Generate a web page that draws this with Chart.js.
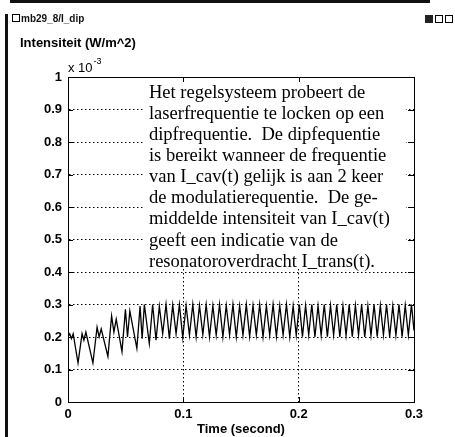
<!DOCTYPE html>
<html>
<head>
<meta charset="utf-8">
<script src="https://cdn.jsdelivr.net/npm/chart.js@4.4.0/dist/chart.umd.min.js"></script>
<style>
html,body{margin:0;padding:0;background:#fff;}
#wrap{position:relative;width:455px;height:437px;}
canvas{display:block;}
</style>
</head>
<body>
<div id="wrap"><canvas id="c" width="455" height="437"></canvas></div>
<script>
// ---- data (intensity in units of 10^-3 W/m^2, time in seconds) ----
const timeS = [
 0, 0.0015, 0.003, 0.0045, 0.0087, 0.0122, 0.0138, 0.0155, 0.0216, 0.0252, 0.027, 0.0288,
 0.0346, 0.0378, 0.0398, 0.0418, 0.0468, 0.0498, 0.0516, 0.0536, 0.0597, 0.0625, 0.0643, 0.0662,
 0.0705, 0.0734, 0.0763, 0.0792, 0.0821, 0.085, 0.0879, 0.0908, 0.0937, 0.0966, 0.0995, 0.1024,
 0.1053, 0.1082, 0.1111, 0.114, 0.1169, 0.1198, 0.1227, 0.1256, 0.1285, 0.1314, 0.1343, 0.1372,
 0.1401, 0.143, 0.1459, 0.1488, 0.1517, 0.1546, 0.1575, 0.1604, 0.1633, 0.1662, 0.1691, 0.172,
 0.1749, 0.1778, 0.1807, 0.1836, 0.1865, 0.1894, 0.1923, 0.1952, 0.1979, 0.2006, 0.2033, 0.206,
 0.2087, 0.2114, 0.2141, 0.2168, 0.2195, 0.2222, 0.2249, 0.2276, 0.2303, 0.233, 0.2357, 0.2384,
 0.2411, 0.2438, 0.2465, 0.2492, 0.2519, 0.2546, 0.2573, 0.26, 0.2627, 0.2654, 0.2681, 0.2708,
 0.2735, 0.2762, 0.2789, 0.2816, 0.2843, 0.287, 0.2897, 0.2924, 0.2951, 0.2978, 0.3
];
const intensity = [
 0.2, 0.21, 0.195, 0.21, 0.12, 0.21, 0.19, 0.215, 0.12, 0.23, 0.2, 0.225,
 0.14, 0.265, 0.215, 0.255, 0.155, 0.285, 0.2, 0.28, 0.165, 0.295, 0.195, 0.3,
 0.18, 0.3, 0.19, 0.295, 0.21, 0.3, 0.195, 0.298, 0.21, 0.3, 0.198, 0.296,
 0.205, 0.3, 0.2, 0.297, 0.207, 0.3, 0.2, 0.296, 0.205, 0.3, 0.2, 0.297,
 0.206, 0.3, 0.2, 0.296, 0.205, 0.3, 0.201, 0.297, 0.206, 0.3, 0.2, 0.296,
 0.205, 0.3, 0.201, 0.297, 0.206, 0.3, 0.2, 0.296, 0.205, 0.3, 0.201, 0.297,
 0.206, 0.3, 0.2, 0.296, 0.205, 0.3, 0.201, 0.297, 0.206, 0.3, 0.2, 0.296,
 0.205, 0.3, 0.201, 0.297, 0.206, 0.3, 0.2, 0.296, 0.205, 0.3, 0.201, 0.297,
 0.206, 0.3, 0.2, 0.296, 0.205, 0.3, 0.201, 0.297, 0.206, 0.3, 0.22
];
const xTickLabels = ['0', '0.1', '0.2', '0.3'];
const yTickLabels = ['0', '0.1', '0.2', '0.3', '0.4', '0.5', '0.6', '0.7', '0.8', '0.9', '1'];
const windowTitle = 'mb29_8/I_dip';
const yAxisTitle = 'Intensiteit (W/m^2)';
const xAxisTitle = 'Time (second)';
const exponentBase = 'x 10';
const exponentPower = '-3';
const noteLines = [
 'Het regelsysteem probeert de',
 'laserfrequentie te locken op een',
 'dipfrequentie.  De dipfequentie',
 'is bereikt wanneer de frequentie',
 'van I_cav(t) gelijk is aan 2 keer',
 'de modulatierequentie.  De ge-',
 'middelde intensiteit van I_cav(t)',
 'geeft een indicatie van de',
 'resonatoroverdracht I_trans(t).'
];

const points = timeS.map((t, i) => ({x: t, y: intensity[i]}));
const boldFont = {family: 'Liberation Sans, Arial, sans-serif', size: 13, weight: 'bold'};

const decor = {
  id: 'decor',
  afterDraw(chart) {
    const ctx = chart.ctx;
    const a = chart.chartArea;
    const xs = chart.scales.x, ys = chart.scales.y;
    ctx.save();
    // text box (covers grid)
    const bx = xs.getPixelForValue(0.065), by = a.top + 1;
    const bw = xs.getPixelForValue(0.293) - bx, bh = ys.getPixelForValue(0.41) - by;
    ctx.fillStyle = '#fff';
    ctx.fillRect(bx, by, bw, bh);
    ctx.fillStyle = '#000';
    ctx.font = '18.5px "Liberation Serif", "Times New Roman", serif';
    ctx.textBaseline = 'middle';
    ctx.textAlign = 'left';
    noteLines.forEach((s, i) => ctx.fillText(s, bx + 6, by + 15 + i * 21.1));
    // top & right borders
    ctx.strokeStyle = '#000';
    ctx.lineWidth = 1;
    ctx.beginPath();
    ctx.moveTo(a.left, a.top + 0.5); ctx.lineTo(a.right + 0.5, a.top + 0.5);
    ctx.moveTo(a.right + 0.5, a.top); ctx.lineTo(a.right + 0.5, a.bottom);
    ctx.stroke();
    // inward ticks
    ctx.beginPath();
    ys.ticks.forEach(t => {
      const y = Math.round(ys.getPixelForValue(t.value)) + 0.5;
      ctx.moveTo(a.left, y); ctx.lineTo(a.left + 5, y);
      ctx.moveTo(a.right, y); ctx.lineTo(a.right - 6, y);
    });
    xs.ticks.forEach(t => {
      const x = Math.round(xs.getPixelForValue(t.value)) + 0.5;
      ctx.moveTo(x, a.bottom); ctx.lineTo(x, a.bottom - 5);
      ctx.moveTo(x, a.top); ctx.lineTo(x, a.top + 5);
    });
    ctx.stroke();
    // exponent label
    ctx.font = '13px "Liberation Sans", Arial, sans-serif';
    ctx.textBaseline = 'alphabetic';
    ctx.fillText(exponentBase, a.left, a.top - 5);
    const w = ctx.measureText(exponentBase).width;
    ctx.font = '9px "Liberation Sans", Arial, sans-serif';
    ctx.fillText(exponentPower, a.left + w + 1, a.top - 13);
    // y axis title
    ctx.font = 'bold 13px "Liberation Sans", Arial, sans-serif';
    ctx.fillText(yAxisTitle, 20, 47);
    // window chrome
    ctx.fillStyle = '#111';
    ctx.fillRect(10, 0, 420, 3);
    ctx.fillRect(5, 14, 3, 423);
    ctx.strokeRect(12.5, 14.5, 7, 7);
    ctx.font = 'bold 10px "Liberation Sans", Arial, sans-serif';
    ctx.fillText(windowTitle, 21, 22);
    ctx.fillStyle = '#222';
    ctx.fillRect(425, 15, 8, 8);
    ctx.strokeRect(435.5, 15.5, 7, 7);
    ctx.strokeRect(445.5, 15.5, 7, 7);
    ctx.restore();
  }
};

new Chart(document.getElementById('c'), {
  type: 'line',
  data: {
    datasets: [{
      data: points,
      borderColor: '#000',
      borderWidth: 1.3,
      pointRadius: 0,
      tension: 0,
      fill: false
    }]
  },
  plugins: [decor],
  options: {
    responsive: false,
    animation: false,
    events: [],
    layout: {padding: {top: 77, right: 41, left: 0, bottom: 0}},
    plugins: {legend: {display: false}, tooltip: {enabled: false}},
    scales: {
      x: {
        type: 'linear', min: 0, max: 0.3,
        afterFit(s) { s.height = 35; },
        ticks: {stepSize: 0.1, color: '#000', font: boldFont, padding: 5,
                maxRotation: 0, callback: (v, i) => xTickLabels[i]},
        grid: {drawTicks: false, color: ctx => (ctx.index === 0 || ctx.index === xTickLabels.length - 1) ? 'rgba(0,0,0,0)' : '#000',
               lineWidth: 1},
        border: {display: true, color: '#000', width: 1, dash: [1.5, 2.5]},
        title: {display: true, text: xAxisTitle, color: '#000', font: boldFont, padding: 0}
      },
      y: {
        min: 0, max: 1,
        afterFit(s) { s.width = 68; },
        ticks: {stepSize: 0.1, color: '#000', font: boldFont, padding: 6,
                callback: (v, i) => yTickLabels[i]},
        grid: {drawTicks: false, color: ctx => (ctx.index === 0 || ctx.index === yTickLabels.length - 1) ? 'rgba(0,0,0,0)' : '#000',
               lineWidth: 1},
        border: {display: true, color: '#000', width: 1, dash: [1.5, 2.5]}
      }
    }
  }
});
</script>
</body>
</html>
